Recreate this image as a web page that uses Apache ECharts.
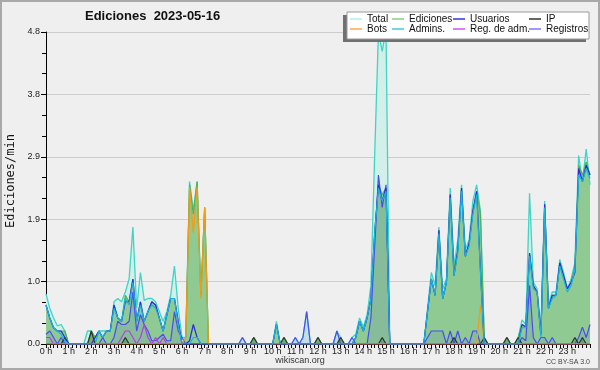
<!DOCTYPE html>
<html>
<head>
<meta charset="utf-8">
<title>Ediciones 2023-05-16</title>
<script src="https://cdn.jsdelivr.net/npm/echarts@6/dist/echarts.min.js"></script>
<style>
  html, body { margin: 0; padding: 0; background: #efefef; }
  #chart { width: 600px; height: 370px; }
</style>
</head>
<body>
<div id="chart"></div>
<script>
// one value per 10 minutes, 0:00 .. 24:00 (145 points), edits per minute
// each row = one hour
const total = [
  0.77, 0.55, 0.4, 0.28, 0.3, 0.2,
  0, 0, 0, 0, 0, 0.2,
  0.2, 0.1, 0.2, 0.2, 0.2, 0.2,
  0.65, 0.7, 0.65, 0.8, 1.0, 1.8,
  0.55, 1.1, 0.67, 0.7, 0.7, 0.65,
  0.5, 0.35, 0.5, 0.75, 1.2, 0.55,
  0.1, 0.1, 2.5, 2.05, 2.5, 0.75,
  2.1, 0, 0, 0, 0, 0,
  0, 0, 0, 0, 0.1, 0,
  0, 0.1, 0, 0, 0, 0,
  0, 0.35, 0, 0.1, 0, 0,
  0.1, 0, 0.1, 0.5, 0, 0,
  0.1, 0, 0, 0, 0, 0.2,
  0.1, 0, 0, 0.1, 0.15, 0.4,
  0.26, 0.45, 0.9, 2.9, 4.8, 4.5,
  4.85, 0, 0, 0, 0, 0,
  0, 0, 0, 0, 0, 0.55,
  1.1, 0.9, 1.8, 0.85, 1.0, 2.4,
  1.2, 1.6, 2.45, 1.45, 1.6, 2.2,
  2.45, 2.05, 0.1, 0, 0, 0,
  0, 0, 0.1, 0, 0, 0.1,
  0.37, 0.3, 2.32, 0.95, 0.85, 0.2,
  2.2, 0.6, 0.8, 0.8, 1.3, 1.1,
  0.85, 1.0, 1.25, 2.9, 2.5, 3.0,
  2.45
]
const edits = [
  0.6, 0.4, 0.25, 0.2, 0.2, 0.2,
  0, 0, 0, 0, 0, 0,
  0.2, 0.1, 0.2, 0.1, 0.2, 0.2,
  0.6, 0.4, 0.35, 0.75, 0.65, 1.0,
  0.35, 0.65, 0.35, 0.5, 0.65, 0.6,
  0.4, 0.2, 0.45, 0.7, 0.7, 0.35,
  0, 0.1, 2.45, 2.0, 2.5, 0.75,
  2.1, 0, 0, 0, 0, 0,
  0, 0, 0, 0, 0, 0,
  0, 0.1, 0, 0, 0, 0,
  0, 0.3, 0, 0.1, 0, 0,
  0, 0, 0, 0, 0, 0,
  0.1, 0, 0, 0, 0, 0,
  0.1, 0, 0, 0, 0.1, 0.35,
  0.2, 0.4, 0.7, 1.7, 2.45, 2.3,
  2.4, 0, 0, 0, 0, 0,
  0, 0, 0, 0, 0, 0.5,
  1.0, 0.75, 1.75, 0.7, 0.95, 2.3,
  1.15, 1.45, 2.4, 1.35, 1.55, 2.05,
  2.35, 2.0, 0.1, 0, 0, 0,
  0, 0, 0.1, 0, 0, 0.1,
  0.3, 0.26, 1.4, 0.9, 0.8, 0.15,
  2.15, 0.55, 0.75, 0.75, 1.25, 1.05,
  0.85, 0.95, 1.2, 2.75, 2.6, 2.8,
  2.6
]
const users = [
  0.6, 0.4, 0.25, 0.2, 0.2, 0.1,
  0, 0, 0, 0, 0, 0,
  0, 0.1, 0.2, 0.1, 0.2, 0.2,
  0.6, 0.4, 0.35, 0.65, 0.65, 1.0,
  0.35, 0.65, 0.35, 0.5, 0.65, 0.6,
  0.4, 0.2, 0.45, 0.7, 0.7, 0.35,
  0, 0, 0.05, 0.3, 0.1, 0,
  0, 0, 0, 0, 0, 0,
  0, 0, 0, 0, 0, 0,
  0, 0, 0, 0, 0, 0,
  0, 0.3, 0, 0, 0, 0,
  0, 0, 0, 0, 0, 0,
  0, 0, 0, 0, 0, 0,
  0, 0, 0, 0, 0.1, 0.35,
  0.2, 0.4, 0.7, 1.7, 2.45, 2.2,
  2.4, 0, 0, 0, 0, 0,
  0, 0, 0, 0, 0, 0.5,
  1.0, 0.75, 1.75, 0.7, 0.95, 2.3,
  1.05, 1.45, 2.4, 1.35, 1.55, 2.05,
  2.35, 1.15, 0, 0, 0, 0,
  0, 0, 0, 0, 0, 0,
  0.3, 0.26, 1.4, 0.9, 0.8, 0.15,
  2.15, 0.55, 0.75, 0.75, 1.25, 1.05,
  0.85, 0.95, 1.1, 2.7, 2.5, 2.75,
  2.6
]
const admins = [
  0.6, 0.4, 0.25, 0.2, 0.15, 0.05,
  0, 0, 0, 0, 0, 0,
  0, 0, 0.2, 0.1, 0.2, 0.2,
  0.55, 0.4, 0.35, 0.7, 0.6, 0.95,
  0.35, 0.6, 0.35, 0.5, 0.6, 0.55,
  0.4, 0.2, 0.45, 0.7, 0.7, 0.3,
  0, 0, 0, 0.1, 0.1, 0,
  0, 0, 0, 0, 0, 0,
  0, 0, 0, 0, 0, 0,
  0, 0, 0, 0, 0, 0,
  0, 0.3, 0, 0, 0, 0,
  0, 0, 0, 0, 0, 0,
  0, 0, 0, 0, 0, 0,
  0, 0, 0, 0, 0.1, 0.35,
  0.2, 0.4, 0.7, 1.7, 2.4, 2.2,
  2.35, 0, 0, 0, 0, 0,
  0, 0, 0, 0, 0, 0.5,
  1.0, 0.75, 1.7, 0.7, 0.95, 2.25,
  1.05, 1.4, 2.35, 1.35, 1.5, 2.0,
  2.3, 1.1, 0, 0, 0, 0,
  0, 0, 0, 0, 0, 0,
  0.25, 0.25, 1.35, 0.85, 0.8, 0.1,
  2.1, 0.55, 0.7, 0.75, 1.2, 1.0,
  0.8, 0.9, 1.15, 2.6, 2.5, 2.7,
  2.55
]
const ip = [
  0, 0, 0, 0, 0, 0.1,
  0, 0, 0, 0, 0, 0,
  0.2, 0, 0, 0, 0, 0,
  0, 0, 0, 0.1, 0, 0,
  0, 0, 0, 0, 0, 0,
  0, 0, 0, 0, 0, 0,
  0, 0, 0, 0, 0, 0,
  0, 0, 0, 0, 0, 0,
  0, 0, 0, 0, 0, 0,
  0, 0.1, 0, 0, 0, 0,
  0, 0, 0, 0.1, 0, 0,
  0, 0, 0, 0, 0, 0,
  0.1, 0, 0, 0, 0, 0,
  0.1, 0, 0, 0, 0, 0,
  0, 0, 0, 0, 0, 0.1,
  0, 0, 0, 0, 0, 0,
  0, 0, 0, 0, 0, 0,
  0, 0, 0, 0, 0, 0,
  0.1, 0, 0, 0, 0, 0,
  0, 0, 0.1, 0, 0, 0,
  0, 0, 0.1, 0, 0, 0.1,
  0, 0, 0, 0, 0, 0,
  0, 0, 0, 0, 0, 0,
  0, 0, 0.1, 0, 0.1, 0,
  0
]
const bots = [
  0, 0, 0, 0, 0, 0,
  0, 0, 0, 0, 0, 0,
  0, 0, 0, 0, 0, 0,
  0, 0, 0, 0, 0, 0,
  0, 0, 0, 0, 0, 0,
  0, 0, 0, 0, 0, 0,
  0, 0.1, 2.42, 1.7, 2.42, 0.7,
  2.1, 0, 0, 0, 0, 0,
  0, 0, 0, 0, 0, 0,
  0, 0, 0, 0, 0, 0,
  0, 0, 0, 0, 0, 0,
  0, 0, 0, 0, 0, 0,
  0, 0, 0, 0, 0, 0,
  0, 0, 0, 0, 0, 0,
  0, 0, 0, 0, 0, 0,
  0, 0, 0, 0, 0, 0,
  0, 0, 0, 0, 0, 0,
  0, 0, 0, 0, 0, 0,
  0, 0, 0, 0, 0, 0,
  0, 0.6, 0, 0, 0, 0,
  0, 0, 0, 0, 0, 0,
  0, 0, 0, 0, 0, 0,
  0, 0, 0, 0, 0, 0,
  0, 0, 0, 0, 0, 0,
  0
]
const adminLogs = [
  0.1, 0.1, 0, 0, 0, 0,
  0, 0, 0, 0, 0, 0,
  0, 0, 0, 0, 0, 0,
  0, 0, 0.1, 0.2, 0.2, 0.1,
  0, 0.1, 0.3, 0.1, 0, 0.1,
  0, 0.1, 0, 0, 0, 0,
  0, 0, 0, 0, 0, 0,
  0, 0, 0, 0, 0, 0,
  0, 0, 0, 0, 0, 0,
  0, 0, 0, 0, 0, 0,
  0, 0, 0, 0, 0, 0,
  0, 0, 0, 0, 0, 0,
  0, 0, 0, 0, 0, 0,
  0, 0, 0, 0, 0, 0,
  0, 0, 0, 0, 0, 0,
  0, 0, 0, 0, 0, 0,
  0, 0, 0, 0, 0, 0,
  0, 0, 0, 0, 0, 0,
  0, 0, 0, 0, 0, 0,
  0, 0, 0, 0, 0, 0,
  0, 0, 0, 0, 0, 0,
  0, 0, 0, 0, 0, 0,
  0, 0, 0, 0, 0, 0,
  0, 0, 0, 0, 0, 0,
  0
]
const logs = [
  0.15, 0.2, 0.1, 0, 0.1, 0,
  0, 0, 0, 0, 0, 0,
  0, 0, 0, 0.1, 0, 0,
  0.1, 0.35, 0.3, 0.3, 0.35, 0.8,
  0.2, 0.45, 0.3, 0.2, 0.05, 0.05,
  0.1, 0.15, 0.05, 0.05, 0.5, 0.2,
  0.1, 0, 0, 0, 0, 0,
  0, 0, 0, 0, 0, 0,
  0, 0, 0, 0, 0.1, 0,
  0, 0, 0, 0, 0, 0,
  0, 0, 0, 0, 0, 0,
  0.1, 0, 0.1, 0.5, 0, 0,
  0, 0, 0, 0, 0, 0.2,
  0, 0, 0, 0.1, 0, 0,
  0, 0, 0.4, 1.5, 2.6, 2.1,
  2.45, 0, 0, 0, 0, 0,
  0, 0, 0, 0, 0, 0.1,
  0.2, 0.2, 0.2, 0.2, 0, 0.2,
  0, 0.2, 0, 0.1, 0, 0.2,
  0.2, 0, 0, 0, 0, 0,
  0, 0, 0, 0, 0, 0,
  0.1, 0.05, 0.9, 0.1, 0, 0.1,
  0.1, 0, 0.1, 0, 0, 0,
  0, 0, 0, 0.1, 0.26, 0.1,
  0.3
]
const hourLabels = ['0 h', '1 h', '2 h', '3 h', '4 h', '5 h', '6 h', '7 h', '8 h', '9 h', '10 h', '11 h',
  '12 h', '13 h', '14 h', '15 h', '16 h', '17 h', '18 h', '19 h', '20 h', '21 h', '22 h', '23 h']
const minutes = total.map((v, k) => k * 10)

const FONT = 'Liberation Sans'

function pts (arr) {
  return arr.map((v, k) => [minutes[k], v])
}

function lineSeries (name, data, color, extra) {
  return Object.assign({
    name: name,
    type: 'line',
    data: pts(data),
    symbol: 'none',
    animation: false,
    itemStyle: { color: color },
    lineStyle: { color: color, width: 1.2 }
  }, extra || {})
}

const legendItems = [
  { name: 'Total', color: '#b9ece8', left: 350, top: 14 },
  { name: 'Ediciones', color: '#88cc88', left: 392, top: 14 },
  { name: 'Usuarios', color: '#3434dc', left: 453, top: 14 },
  { name: 'IP', color: '#333333', left: 529, top: 14 },
  { name: 'Bots', color: '#ffa844', left: 350, top: 24 },
  { name: 'Admins.', color: '#44c8dc', left: 392, top: 24 },
  { name: 'Reg. de adm.', color: '#cc55ee', left: 453, top: 24 },
  { name: 'Registros', color: '#7a7aff', left: 529, top: 24 }
]

let chart = echarts.init(document.getElementById('chart'))
let option = {
  backgroundColor: '#efefef',
  animation: false,
  title: {
    text: 'Ediciones  2023-05-16',
    left: 85,
    top: 10,
    padding: 0,
    textStyle: { fontFamily: FONT, fontSize: 13, fontWeight: 'bold', color: '#111' }
  },
  legend: legendItems.map(it => ({
    data: [{ name: it.name, itemStyle: { color: it.color } }],
    left: it.left,
    top: it.top,
    padding: 0,
    icon: 'rect',
    itemWidth: 12,
    itemHeight: 1.5,
    itemGap: 0,
    selectedMode: false,
    z: 12,
    textStyle: { fontFamily: FONT, fontSize: 10, color: '#111', padding: [0, 0, 0, 0] }
  })),
  grid: { left: 46, right: 10, top: 32, bottom: 26, containLabel: false, outerBoundsMode: 'none' },
  xAxis: {
    type: 'value',
    min: 0,
    max: 1440,
    interval: 60,
    axisLine: { lineStyle: { color: '#000', width: 1 } },
    axisTick: { length: 4, lineStyle: { color: '#000' } },
    minorTick: { show: true, splitNumber: 6, length: 4, lineStyle: { color: '#000' } },
    splitLine: { show: false },
    axisLabel: {
      formatter: v => hourLabels[v / 60] || '',
      fontFamily: FONT,
      fontSize: 9,
      margin: 3,
      color: '#222'
    }
  },
  yAxis: {
    type: 'value',
    min: 0,
    max: 4.8,
    interval: 0.96,
    name: 'Ediciones/min',
    nameLocation: 'middle',
    nameGap: 28,
    nameTextStyle: { fontFamily: 'DejaVu Sans Mono', fontSize: 12, color: '#111', padding: [0, 0, 0, 14] },
    axisLine: { show: true, lineStyle: { color: '#000', width: 1 } },
    axisTick: { show: true, length: 5, lineStyle: { color: '#000' } },
    minorTick: { show: true, splitNumber: 3, length: 4, lineStyle: { color: '#000' } },
    splitLine: { show: true, lineStyle: { color: '#cdcdcd' } },
    axisLabel: {
      formatter: v => v.toFixed(1),
      fontFamily: FONT,
      fontSize: 9,
      margin: 6,
      color: '#222'
    }
  },
  series: [
    lineSeries('Total', total, '#3fd4c4', { areaStyle: { color: '#d2efea', opacity: 1 }, lineStyle: { color: '#3fd4c4', width: 1.3 } }),
    lineSeries('Ediciones', edits, '#52b352', { areaStyle: { color: '#8fca93', opacity: 1 } }),
    lineSeries('Registros', logs, '#4a4cf2', { areaStyle: { color: 'rgba(60,60,230,0.13)' } }),
    lineSeries('IP', ip, '#27352a', { areaStyle: { color: 'rgba(20,50,20,0.3)' } }),
    lineSeries('Reg. de adm.', adminLogs, '#b63fe0'),
    lineSeries('Bots', bots, '#f59a12'),
    lineSeries('Usuarios', users, '#2b2bdf'),
    lineSeries('Admins.', admins, '#1cb2de')
  ],
  graphic: [
    { type: 'rect', silent: true, z: 100, shape: { x: 1, y: 1, width: 598, height: 368 }, style: { fill: 'none', stroke: '#a9a9a9', lineWidth: 2 } },
    { type: 'rect', silent: true, z: 10, shape: { x: 343, y: 15, width: 243, height: 27 }, style: { fill: '#707070' } },
    { type: 'rect', silent: true, z: 11, shape: { x: 347, y: 12, width: 242, height: 27 }, style: { fill: '#ffffff', stroke: '#9a9a9a', lineWidth: 1 } },
    { type: 'text', silent: true, z: 11, style: { x: 300, y: 361, text: 'wikiscan.org', align: 'center', verticalAlign: 'middle', font: '9px "Liberation Sans"', fill: '#333' } },
    { type: 'text', silent: true, z: 11, style: { x: 590, y: 362, text: 'CC BY-SA 3.0', align: 'right', verticalAlign: 'middle', font: '7px "Liberation Sans"', fill: '#444' } }
  ]
}
chart.setOption(option)
</script>
</body>
</html>
